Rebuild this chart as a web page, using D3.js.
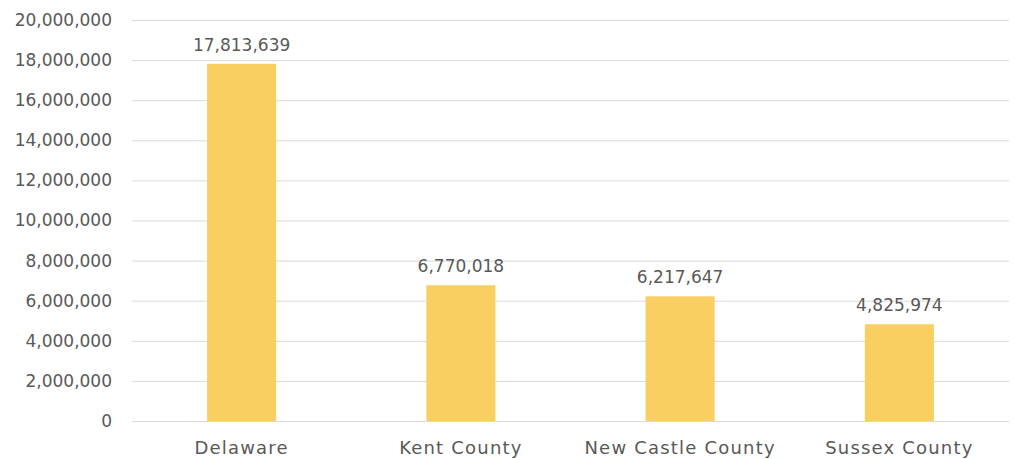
<!DOCTYPE html>
<html>
<head>
<meta charset="utf-8">
<script src="https://cdn.jsdelivr.net/npm/d3@7"></script>
<style>
    body { margin: 0; background: #fff; }
    text { font-family: "DejaVu Sans", sans-serif; fill: #595959; }
</style>
</head>
<body>
<div id="chart"></div>
<script>
let categories = ["Delaware", "Kent County", "New Castle County", "Sussex County"];
let values = [17813639, 6770018, 6217647, 4825974];
let yTicks = [0, 2000000, 4000000, 6000000, 8000000, 10000000, 12000000, 14000000, 16000000, 18000000, 20000000];

let margin = { top: 20, right: 5, bottom: 38, left: 132 };
let width = 1014 - margin.left - margin.right;
let height = 459 - margin.top - margin.bottom;

let svg = d3.select("#chart").append("svg")
    .attr("width", 1014)
    .attr("height", 459)
    .append("g")
    .attr("transform", "translate(" + margin.left + "," + margin.top + ")");

let x = d3.scaleBand()
    .domain(categories)
    .range([0, width])
    .paddingInner(0.685)
    .paddingOuter(0.3425);

let y = d3.scaleLinear()
    .domain([0, 20000000])
    .range([height, 0]);

let fmt = d3.format(",");

// gridlines
svg.selectAll(".grid")
    .data(yTicks)
    .enter().append("line")
    .attr("x1", 0)
    .attr("x2", width)
    .attr("y1", d => y(d) + 0.5)
    .attr("y2", d => y(d) + 0.5)
    .attr("stroke", "#d9d9d9")
    .attr("stroke-width", 1);

// y labels
svg.selectAll(".ylab")
    .data(yTicks)
    .enter().append("text")
    .attr("x", -20)
    .attr("y", d => y(d))
    .attr("dy", "0.35em")
    .attr("text-anchor", "end")
    .style("font-size", "17px")
    .text(d => fmt(d));

// bars
svg.selectAll(".bar")
    .data(values)
    .enter().append("rect")
    .attr("x", (d, i) => x(categories[i]))
    .attr("width", x.bandwidth())
    .attr("y", d => y(d))
    .attr("height", d => height - y(d))
    .attr("fill", "#f9cf62");

// value labels
svg.selectAll(".vlab")
    .data(values)
    .enter().append("text")
    .attr("x", (d, i) => x(categories[i]) + x.bandwidth() / 2)
    .attr("y", d => y(d) - 13)
    .attr("text-anchor", "middle")
    .style("font-size", "17px")
    .text(d => fmt(d));

// category labels
svg.selectAll(".xlab")
    .data(categories)
    .enter().append("text")
    .attr("x", d => x(d) + x.bandwidth() / 2)
    .attr("y", height + 33)
    .attr("text-anchor", "middle")
    .style("font-size", "18px")
    .style("letter-spacing", "1.2px")
    .text(d => d);
</script>
</body>
</html>
